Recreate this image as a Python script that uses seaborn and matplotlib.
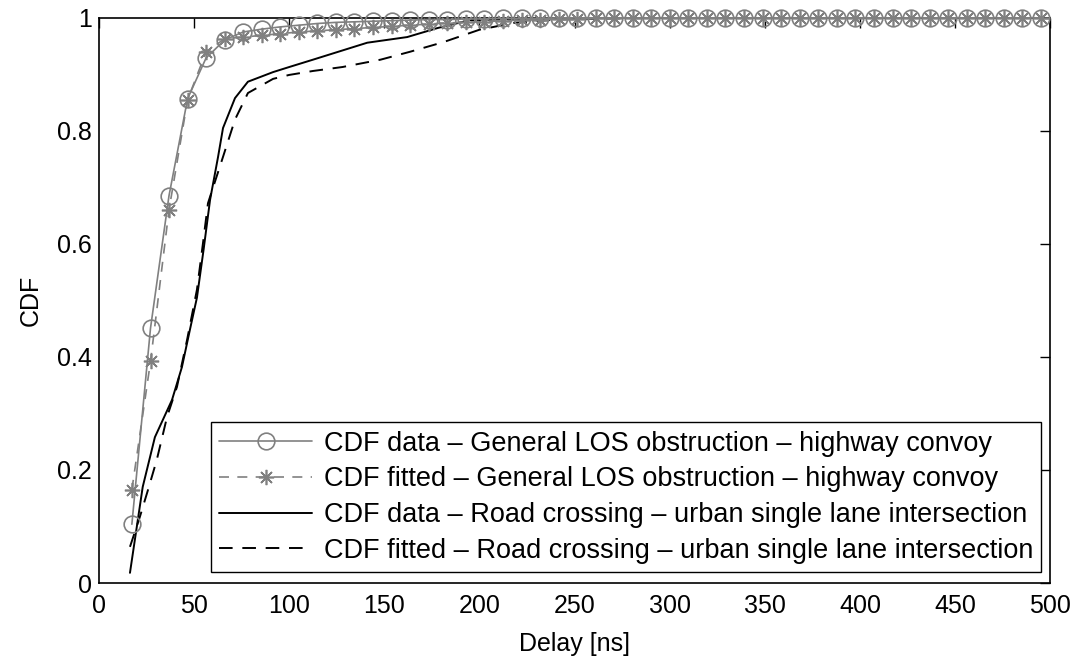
import numpy as np
import pandas as pd
import seaborn as sns
import matplotlib.pyplot as plt

# delay bins (ns) for the marker series
delay = [17.3, 27.1, 36.8, 46.6, 56.3, 66.1, 75.8, 85.6, 95.3, 105.1,
         114.8, 124.6, 134.3, 144.1, 153.8, 163.6, 173.3, 183.1, 192.8, 202.6,
         212.3, 222.1, 231.8, 241.6, 251.3, 261.1, 270.8, 280.6, 290.3, 300.1,
         309.8, 319.6, 329.3, 339.1, 348.8, 358.6, 368.3, 378.1, 387.8, 397.6,
         407.3, 417.1, 426.8, 436.6, 446.3, 456.1, 465.8, 475.6, 485.3, 495.1]

# General LOS obstruction - highway convoy
hw_data = [0.104, 0.451, 0.685, 0.857, 0.929, 0.961, 0.975, 0.980, 0.984, 0.987,
           0.990, 0.992, 0.993, 0.994, 0.995, 0.996, 0.997, 0.997, 0.998, 0.998,
           0.999, 0.999, 0.999] + [1.0] * 27
hw_fit = [0.165, 0.392, 0.660, 0.855, 0.940, 0.963, 0.966, 0.969, 0.972, 0.975,
          0.977, 0.979, 0.981, 0.983, 0.985, 0.987, 0.989, 0.991, 0.992, 0.993,
          0.995, 0.996, 0.997, 0.998, 0.998, 0.999, 0.999] + [1.0] * 23

# Road crossing - urban single lane intersection
rc_data_x = [16.3, 23, 29.4, 38.4, 43.6, 47.8, 51.5, 55, 58.4, 62.6, 65.2, 71.5,
             78.3, 91.5, 100, 112.5, 141, 162, 178, 195, 220, 250, 300, 400, 495]
rc_data_y = [0.018, 0.17, 0.258, 0.324, 0.382, 0.448, 0.505, 0.59, 0.678, 0.754,
             0.805, 0.858, 0.887, 0.904, 0.913, 0.926, 0.956, 0.966, 0.982, 0.996,
             0.998, 1.0, 1.0, 1.0, 1.0]
rc_fit_x = [16.3, 21.5, 25.8, 30.4, 35.8, 41, 46.3, 51.5, 54.7, 57.3, 65.2, 71.5,
            78.3, 91.5, 100, 112.5, 128, 148, 163.5, 181, 200, 218, 240, 270, 300,
            400, 495]
rc_fit_y = [0.064, 0.117, 0.165, 0.218, 0.294, 0.347, 0.43, 0.519, 0.602, 0.672,
            0.754, 0.82, 0.867, 0.892, 0.899, 0.906, 0.913, 0.926, 0.94, 0.957,
            0.979, 0.991, 0.997, 0.999, 1.0, 1.0, 1.0]

labels = ["CDF data \u2013 General LOS obstruction \u2013 highway convoy",
          "CDF fitted \u2013 General LOS obstruction \u2013 highway convoy",
          "CDF data \u2013 Road crossing \u2013 urban single lane intersection",
          "CDF fitted \u2013 Road crossing \u2013 urban single lane intersection"]

sns.set_style("white")
plt.rcParams["font.family"] = ["Liberation Sans", "DejaVu Sans"]
plt.rcParams["font.size"] = 18
plt.rcParams["text.color"] = "black"
plt.rcParams["axes.labelcolor"] = "black"

fig = plt.figure(figsize=(10.85, 6.61), dpi=100)
ax = fig.add_axes([0.0912, 0.118, 0.8768, 0.855])

gray = "#808080"
sns.lineplot(x=delay, y=hw_data, ax=ax, color=gray, lw=1.2, marker="o",
             markersize=12, markerfacecolor="none", markeredgecolor=gray,
             markeredgewidth=1.2, clip_on=False, label=labels[0], zorder=3)
sns.lineplot(x=delay, y=hw_fit, ax=ax, color=gray, lw=1.2, linestyle=(0, (6, 5)),
             marker=(8, 2, 0), markersize=11, markeredgecolor=gray,
             markeredgewidth=1.2, clip_on=False, label=labels[1], zorder=3)
sns.lineplot(x=rc_data_x, y=rc_data_y, ax=ax, color="black", lw=1.4,
             label=labels[2], zorder=2)
sns.lineplot(x=rc_fit_x, y=rc_fit_y, ax=ax, color="black", lw=1.4,
             linestyle=(0, (7, 5)), label=labels[3], zorder=2)

ax.set_xlim(0, 500)
ax.set_ylim(0, 1)
ax.set_xticks(np.arange(0, 501, 50))
ax.set_yticks([0, 0.2, 0.4, 0.6, 0.8, 1])
ax.set_yticklabels(["0", "0.2", "0.4", "0.6", "0.8", "1"])
ax.tick_params(direction="in", length=7, width=1, top=True, right=True,
               labelsize=18, colors="black", pad=5)
ax.tick_params(axis="x", pad=8)
for s in ax.spines.values():
    s.set_visible(True)
    s.set_color("black")
    s.set_linewidth(1.2)
ax.set_xlabel("Delay [ns]", fontsize=18, labelpad=10)
ax.set_ylabel("CDF", fontsize=18, labelpad=10)

leg = ax.legend(loc="lower right", bbox_to_anchor=(0.9905, 0.0195), fontsize=19.5,
                frameon=True, fancybox=False, framealpha=1, edgecolor="black",
                handlelength=3.4, labelspacing=0.36, borderpad=0.3,
                handletextpad=0.45, borderaxespad=0)
leg.get_frame().set_linewidth(1.0)
for t in leg.get_texts():
    t.set_color("black")

fig.savefig("out.png", dpi=100)
